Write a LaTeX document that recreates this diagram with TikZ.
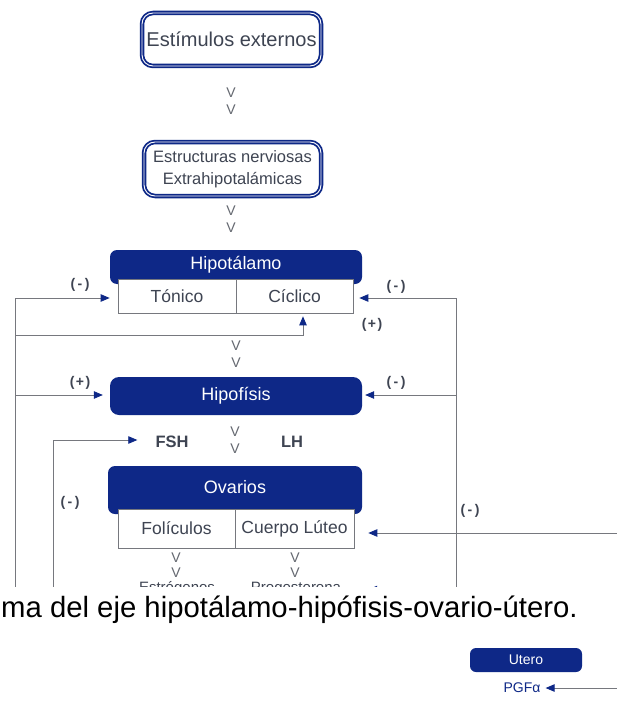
\documentclass[tikz,border=0pt]{standalone}
\usepackage{fontspec}
\setmainfont{Liberation Sans}
\usetikzlibrary{arrows.meta}
\definecolor{navy}{RGB}{14,40,135}
\definecolor{ink}{RGB}{62,68,82}
\definecolor{wire}{RGB}{118,120,126}
\definecolor{vmark}{RGB}{100,104,112}
\begin{document}
\begin{tikzpicture}[x=1pt,y=-1pt,
  outerbox/.style={draw=navy, line width=1.8pt, double=white, double distance=0.9pt,
    rounded corners=11pt, fill=white, text=ink, inner sep=0pt, align=center},
  bar/.style={fill=navy, rounded corners=7pt, inner sep=0pt},
  bartext/.style={text=white, inner sep=0pt, font=\fontsize{18}{20}\selectfont},
  cell/.style={draw=wire, line width=0.7pt, fill=white, inner sep=0pt, text=ink,
    font=\fontsize{17.5}{20}\selectfont},
  celltext/.style={text=ink, inner sep=0pt, font=\fontsize{15}{16}\selectfont},
  vm/.style={text=vmark, font=\fontsize{14}{14}\selectfont, inner sep=0pt},
  sign/.style={text=ink, font=\bfseries\fontsize{14}{14}\selectfont, inner sep=0pt},
  hormone/.style={text=ink, font=\bfseries\fontsize{16.5}{18}\selectfont, inner sep=0pt},
  conn/.style={draw=wire, line width=0.8pt},
  arr/.style={conn, -{Triangle[length=9pt,width=7.5pt,color=navy]}}
]
\useasboundingbox (0,0) rectangle (617,706);
\fill[white] (0,0) rectangle (617,706);

% --- boxes ---
\node[outerbox, minimum width=179pt, minimum height=53pt,
      font=\fontsize{20}{22}\selectfont] (estim) at (231.5,39.5) {Estímulos externos};
\node[outerbox, minimum width=177pt, minimum height=54pt,
      font=\fontsize{16.5}{22}\selectfont] (estruc) at (232.5,169) {Estructuras nerviosas\\Extrahipotalámicas};

\node[bar, minimum width=252pt, minimum height=34pt] (hipobar) at (236,267) {};
\node[bartext] (hipotxt) at (236,264.5) {Hipotálamo};
\node[cell, minimum width=118pt, minimum height=34pt] (tonico) at (177,296) {Tónico};
\node[cell, minimum width=117pt, minimum height=34pt] (ciclico) at (294.5,296) {Cíclico};

\node[bar, rounded corners=9pt, minimum width=252pt, minimum height=38pt,
      text=white, font=\fontsize{18}{20}\selectfont] (hipof) at (236,396) {Hipofísis};

\node[hormone] (fsh) at (172,442) {FSH};
\node[hormone] (lh) at (292,442) {LH};

\node[bar, minimum width=254pt, minimum height=48pt] (ovbar) at (235,490) {};
\node[bartext] (ovtxt) at (235,487) {Ovarios};
\node[cell, minimum width=117pt, minimum height=39pt] (foli) at (176.5,528.5) {Folículos};
\node[cell, minimum width=119pt, minimum height=39pt] (cuerpo) at (294.5,528.5) {Cuerpo Lúteo};

% --- V marks ---
\node[vm] (v1) at (231,93) {V};
\node[vm] (v2) at (231,110) {V};
\node[vm] (v3) at (231,211) {V};
\node[vm] (v4) at (231,228) {V};
\node[vm] (v5) at (236,346) {V};
\node[vm] (v6) at (236,363) {V};
\node[vm] (v7) at (235,432) {V};
\node[vm] (v8) at (235,449) {V};
\node[vm] (v9) at (176,558) {V};
\node[vm] (v10) at (176,573) {V};
\node[vm] (v11) at (295,558) {V};
\node[vm] (v12) at (295,573) {V};

% --- signs ---
\node[sign] (s1) at (80,285) {(\kern2.5pt-\kern2.5pt)};
\node[sign] (s2) at (396,287) {(\kern2.5pt-\kern2.5pt)};
\node[sign] (s3) at (372,325) {(\kern1.5pt+\kern1.5pt)};
\node[sign] (s4) at (80,383) {(\kern1.5pt+\kern1.5pt)};
\node[sign] (s5) at (396,383) {(\kern2.5pt-\kern2.5pt)};
\node[sign] (s6) at (70,503) {(\kern2.5pt-\kern2.5pt)};
\node[sign] (s7) at (470,511) {(\kern2.5pt-\kern2.5pt)};

% --- connectors ---
\coordinate (LA) at (15,298);
\coordinate (LB) at (15,335);
\coordinate (LC) at (15,395);
\coordinate (Lend) at (15,587);
\draw[conn] (LA) -- (Lend);
\draw[arr, shorten >=8pt] (LA) -- (LA -| tonico.west);
\coordinate (CB) at (303,335);
\draw[arr, shorten >=3pt] (LB) -- (CB) -- (CB |- ciclico.south);
\draw[arr, shorten >=7pt] (LC) -- (LC -| hipof.west);

\coordinate (IA) at (53,440);
\coordinate (Iend) at (53,587);
\draw[conn] (IA) -- (Iend);
\draw[arr, shorten >=18pt] (IA) -- (IA -| fsh.west);

\coordinate (RA) at (456,298);
\coordinate (RB) at (456,395);
\coordinate (Rend) at (456,587);
\draw[conn] (RA) -- (Rend);
\draw[arr, shorten >=6pt] (RA) -- (RA -| ciclico.east);
\draw[arr, shorten >=3pt] (RB) -- (RB -| hipof.east);

\coordinate (EA) at (617,533);
\draw[arr, shorten >=14pt] (EA) -- (EA -| cuerpo.east);

% --- cut-off row (cropped in the source) ---
\begin{scope}
\clip (0,0) rectangle (617,586);
\node[celltext, anchor=base, text depth=0pt] (estro) at (177,592) {Estrógenos};
\node[celltext, anchor=base, text depth=0pt] (proges) at (296,592) {Progesterona};
\coordinate (RC) at (456,589.5);
\draw[arr, shorten >=27pt] (RC) -- (RC -| proges.east);
\end{scope}

% --- caption ---
\node[anchor=base west, inner sep=0pt, text height=18pt,
      font=\fontsize{29.3}{30}\selectfont, text=black]
  (caption) at (1,617) {ma del eje hipotálamo-hipófisis-ovario-útero.};

% --- utero ---
\node[bar, rounded corners=6pt, minimum width=112pt, minimum height=24pt,
      text=white, font=\fontsize{14}{14}\selectfont] (utero) at (526,660) {Utero};
\node[text=navy, font=\fontsize{14}{14}\selectfont, inner sep=0pt] (pgf) at (522,688) {PGFα};
\coordinate (EB) at (617,688);
\draw[arr, shorten >=5pt] (EB) -- (EB -| pgf.east);
\end{tikzpicture}
\end{document}
